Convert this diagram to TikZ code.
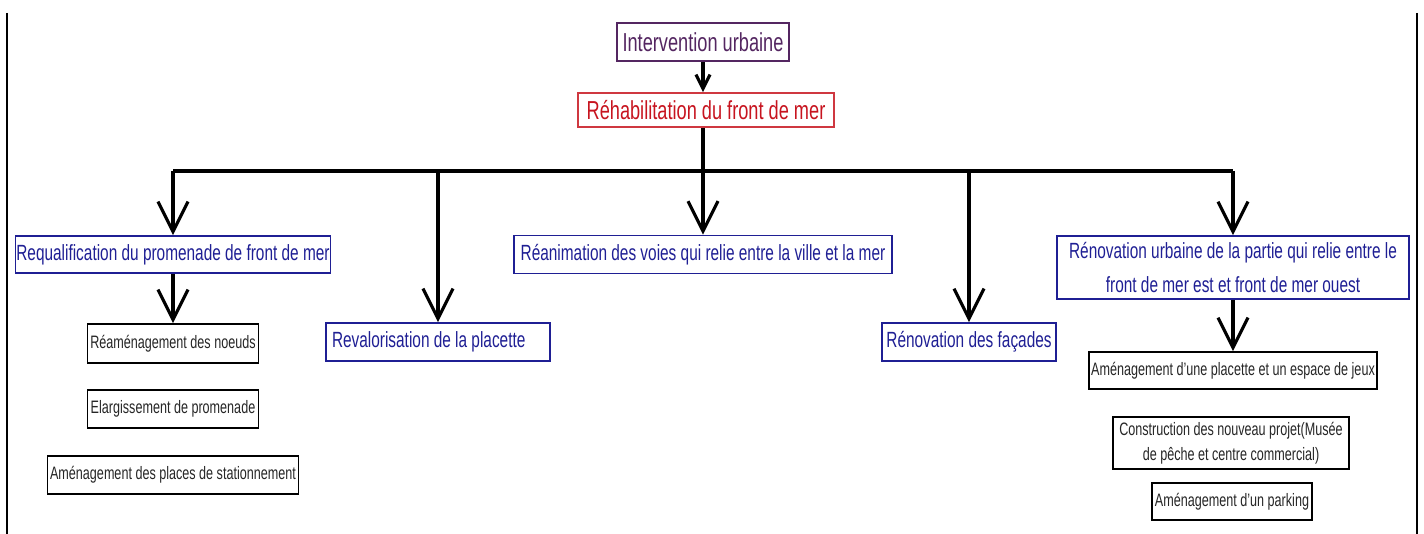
\documentclass[tikz,border=0pt]{standalone}
\usepackage{fontspec}
\setmainfont{Liberation Sans}[FakeStretch=0.7]
\usepackage{xcolor}
\definecolor{colorPurple}{rgb}{0.33,0.15,0.38}
\definecolor{colorRed}{rgb}{0.78,0.08,0.12}
\definecolor{colorBlue}{rgb}{0.12,0.12,0.58}
\usetikzlibrary{arrows.meta}
\tikzset{
  box/.style={draw, line width=0.8pt, inner sep=0pt, align=center},
  topbox/.style={box, font=\fontsize{13}{15}\selectfont},
  axebox/.style={box, draw=colorBlue, text=colorBlue, font=\fontsize{11}{17}\selectfont},
  actbox/.style={box, draw=black, text=black!85, font=\fontsize{9}{12.5}\selectfont},
  flow/.style={line width=1.6pt, -{Straight Barb[length=15pt,width=15pt,line width=1.6pt]}},
  flowsmall/.style={line width=1.6pt, -{Straight Barb[length=7pt,width=7pt,line width=1.6pt]}},
  trunk/.style={line width=1.6pt},
}

\begin{document}
\begin{tikzpicture}[x=0.5pt,y=-0.5pt]
\useasboundingbox (0,0) rectangle (1424,534);

% Page borders
\draw[line width=1pt] (7,13) -- (7,534);
\draw[line width=1pt] (1417,13) -- (1417,534);

% Top of the tree
\node[topbox, draw=colorPurple, text=colorPurple, minimum width=86pt, minimum height=19pt] (interv) at (703,42) {Intervention urbaine};
\node[topbox, draw=colorRed!85, text=colorRed, minimum width=128pt, minimum height=17pt] (rehab) at (706,110) {Réhabilitation du front de mer};
\coordinate (bus) at (703,171);
\draw[flowsmall] (interv.south) -- (interv.south |- rehab.north);
\draw[trunk] (interv.south |- rehab.south) -- (bus);

% Main axes
\node[axebox, minimum width=157.5pt, minimum height=18.5pt] (requal) at (173,254.5) {Requalification du promenade de front de mer};
\node[axebox, align=flush left, text width=106pt, inner xsep=3pt, minimum height=19pt] (reval) at (438,342) {Revalorisation de la placette};
\node[axebox, minimum width=189pt, minimum height=19pt] (reanim) at (703,254.5) {Réanimation des voies qui relie entre la ville et la mer};
\node[axebox, minimum width=87pt, minimum height=19pt] (facades) at (969,342) {Rénovation des façades};
\node[axebox, minimum width=176pt, minimum height=31.5pt] (renurb) at (1233,267.5) {Rénovation urbaine de la partie qui relie entre le\\front de mer est et front de mer ouest};

% Branches from the bus
\draw[line width=2.2pt] (requal.north |- bus) -- (renurb.north |- bus);
\draw[flow] (requal.north |- bus) -- (requal.north);
\draw[flow] (reval.north |- bus) -- (reval.north);
\draw[flow] (bus) -- (reanim.north);
\draw[flow] (facades.north |- bus) -- (facades.north);
\draw[flow] (renurb.north |- bus) -- (renurb.north);

% Actions, left
\node[actbox, minimum width=85.5pt, minimum height=19.5pt] (noeuds) at (173,343.5) {Réaménagement des noeuds};
\node[actbox, minimum width=85.5pt, minimum height=19pt] (elarg) at (173,409) {Elargissement de promenade};
\node[actbox, minimum width=125.5pt, minimum height=19pt] (station) at (173,475) {Aménagement des places de stationnement};
\draw[flow] (requal.south) -- (noeuds.north);

% Actions, right
\node[actbox, minimum width=144pt, minimum height=18.5pt] (jeux) at (1233,370.5) {Aménagement d'une placette et un espace de jeux};
\node[actbox, minimum width=118pt, minimum height=26pt] (musee) at (1231,443) {Construction des nouveau projet(Musée\\de pêche et centre commercial)};
\node[actbox, minimum width=80pt, minimum height=18.5pt] (parking) at (1232,501.5) {Aménagement d'un parking};
\draw[flow] (renurb.south) -- (jeux.north);
\end{tikzpicture}
\end{document}
